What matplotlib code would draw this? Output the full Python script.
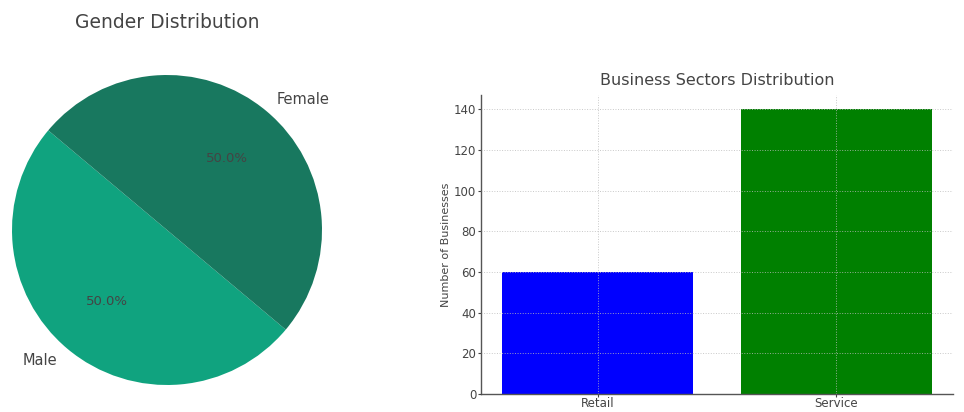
import matplotlib.pyplot as plt

# gender split
genders = ["Male", "Female"]
gender_counts = [50, 50]
gender_colors = ["#10a37f", "#18785f"]

# business sectors
sectors = ["Retail", "Service"]
sector_counts = [60, 140]
sector_colors = ["blue", "green"]

text_color = "#444444"
plt.rcParams["font.family"] = "DejaVu Sans"
plt.rcParams["text.color"] = text_color
plt.rcParams["axes.labelcolor"] = text_color
plt.rcParams["xtick.color"] = text_color
plt.rcParams["ytick.color"] = text_color

W, H = 964, 412
fig = plt.figure(figsize=(W / 100, H / 100), dpi=100)

# pie: centre (167, 230) px, radius 155 px
cx, cy, r = 167, 230, 155
ax1 = fig.add_axes([(cx - r) / W, (H - cy - r) / H, 2 * r / W, 2 * r / H])
ax1.pie(gender_counts, labels=genders, colors=gender_colors, autopct="%1.1f%%",
        startangle=140, textprops={"fontsize": 9.5, "color": text_color},
        wedgeprops={"linewidth": 0})
ax1.set_xlim(-1, 1)
ax1.set_ylim(-1, 1)
ax1.set_aspect("auto")
for t in ax1.texts:
    if t.get_text() in genders:
        t.set_fontsize(10.5)
fig.text(cx / W, 1 - 22 / H, "Gender Distribution", ha="center", va="center",
         fontsize=13.5, color=text_color)

# bar chart
ax2 = fig.add_axes([481 / W, 18 / H, 472.4 / W, 299 / H])
ax2.bar(sectors, sector_counts, color=sector_colors, width=0.8, zorder=1)
ax2.set_axisbelow(False)
ax2.set_title("Business Sectors Distribution", fontsize=11.5, color=text_color, pad=7)
ax2.set_ylabel("Number of Businesses", fontsize=8, labelpad=2)
ax2.tick_params(axis="y", labelsize=8.5, length=2, width=0.8, pad=1.5)
ax2.tick_params(axis="x", labelsize=8.5, length=2, width=0.8, pad=0.5)
ax2.grid(True, linestyle=":", color="#bbbbbb", linewidth=0.7, alpha=0.8)
ax2.spines["top"].set_visible(False)
ax2.spines["right"].set_visible(False)
for s in ("left", "bottom"):
    ax2.spines[s].set_color("#555555")
    ax2.spines[s].set_linewidth(1.0)

fig.savefig("out.png", dpi=100)
